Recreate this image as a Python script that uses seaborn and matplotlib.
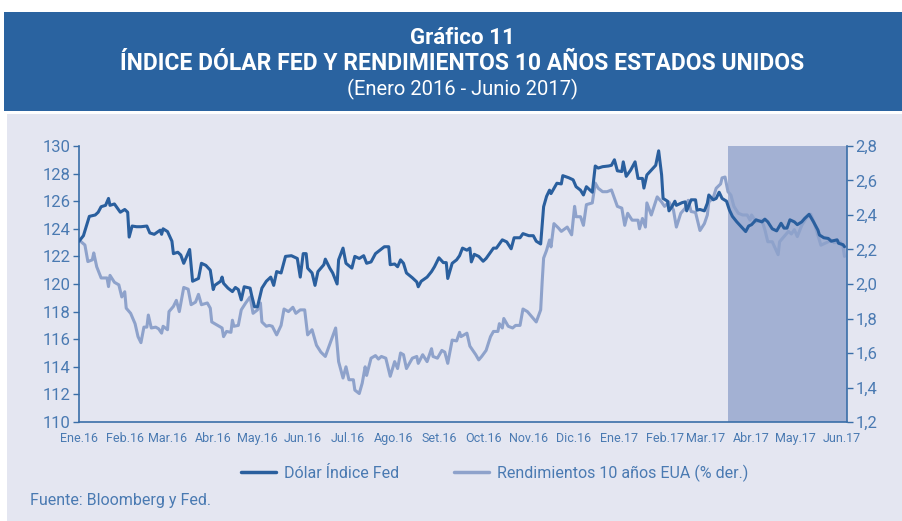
import pandas as pd
import matplotlib.pyplot as plt
import matplotlib.patches as mpatches
from matplotlib.lines import Line2D
import seaborn as sns

# Datos (dias desde 01-ene-2016)
dias_dolar = [0, 3, 7, 11, 13, 15, 18, 20, 21, 24, 28, 31, 33, 34, 36, 39, 42, 46, 48, 51,
              55, 56, 57, 60, 63, 64, 67, 69, 71, 75, 77, 81, 83, 86, 89, 91, 92, 96, 97, 98,
              101, 104, 106, 108, 110, 112, 116, 117, 119, 121, 124, 127, 130, 132, 134, 137, 140, 144, 148, 150,
              152, 154, 155, 158, 160, 162, 166, 167, 170, 172, 175, 176, 179, 181, 185, 187, 190, 193, 195, 198,
              201, 204, 207, 210, 211, 214, 216, 218, 220, 222, 226, 229, 230, 232, 236, 239, 241, 244, 247, 249,
              250, 253, 256, 258, 260, 263, 265, 266, 268, 271, 274, 276, 281, 283, 287, 290, 293, 295, 299, 301,
              305, 308, 310, 313, 315, 317, 319, 320, 324, 327, 328, 332, 335, 337, 340, 342, 344, 348, 350, 352,
              355, 359, 361, 363, 365, 368, 369, 371, 374, 377, 379, 382, 383, 385, 388, 391, 393, 395, 396, 399,
              400, 402, 404, 405, 409, 411, 412, 415, 418, 419, 421, 424, 426, 427, 430, 432, 434, 436, 439, 441,
              443, 446, 449, 452, 454, 456, 459, 463, 465, 467, 470, 473, 476, 478, 480, 482, 485, 487, 490, 492,
              495, 498, 501, 502, 505, 508, 510, 514, 515, 518, 519]
dolar = [123.1, 123.5, 124.9, 125.0, 125.2, 125.6, 125.7, 126.2, 125.7, 125.8, 125.2, 125.4, 125.2, 123.4, 124.2, 124.15, 124.15, 124.2, 123.7, 123.6,
         123.9, 123.6, 124.0, 123.8, 123.1, 122.2, 122.3, 122.1, 121.5, 122.5, 120.2, 120.4, 121.5, 121.35, 121.0, 119.6, 119.9, 120.2, 120.5, 120.05,
         119.7, 119.45, 119.75, 119.6, 118.85, 119.8, 119.7, 119.2, 118.35, 118.35, 119.7, 120.2, 120.5, 119.9, 120.9, 120.8, 122.0, 122.05, 121.85, 120.5,
         122.2, 122.2, 121.15, 120.8, 119.9, 120.9, 121.4, 121.8, 121.15, 120.8, 120.0, 121.75, 122.6, 121.5, 121.15, 122.0, 121.85, 122.05, 121.5, 121.6,
         122.2, 122.45, 122.7, 122.7, 121.4, 121.45, 121.25, 121.75, 121.5, 120.8, 120.45, 120.15, 119.8, 120.2, 120.5, 120.9, 121.25, 121.9, 121.55, 121.55,
         120.4, 121.5, 121.75, 122.05, 122.6, 122.45, 122.6, 121.6, 122.15, 122.0, 121.65, 121.85, 122.6, 122.6, 123.2, 123.05, 122.55, 123.35, 123.35, 123.65,
         123.5, 123.5, 123.1, 122.9, 125.6, 126.35, 126.8, 126.55, 127.3, 127.25, 127.85, 127.7, 127.55, 127.05, 126.8, 126.45, 127.05, 126.65, 128.55, 128.4,
         128.5, 128.55, 128.6, 129.0, 128.2, 128.15, 128.85, 127.8, 128.25, 128.85, 127.65, 127.65, 126.95, 127.9, 128.25, 128.6, 129.65, 127.9, 126.2, 126.0,
         125.3, 125.6, 126.0, 125.7, 125.9, 125.95, 125.3, 126.1, 126.1, 125.35, 125.4, 125.3, 125.85, 126.45, 126.1, 126.2, 126.65, 126.2, 126.0, 125.35,
         124.9, 124.5, 124.15, 123.8, 124.2, 124.3, 124.65, 124.5, 124.7, 124.5, 124.0, 123.85, 124.4, 124.05, 124.05, 124.65, 124.5, 124.3, 124.5, 124.75,
         125.05, 124.5, 123.9, 123.55, 123.35, 123.3, 123.1, 123.2, 122.95, 122.85, 122.7]

dias_rend = [0, 4, 6, 9, 10, 12, 15, 19, 20, 21, 24, 27, 29, 31, 32, 35, 38, 40, 42, 44,
             46, 47, 49, 52, 54, 56, 57, 60, 61, 64, 66, 68, 71, 74, 76, 79, 81, 83, 87, 89,
             90, 94, 97, 98, 100, 103, 104, 105, 108, 110, 113, 116, 118, 121, 123, 124, 127, 129, 131, 134,
             137, 139, 142, 145, 147, 150, 153, 155, 158, 161, 164, 167, 171, 174, 176, 179, 181, 183, 186, 187,
             190, 192, 194, 195, 198, 201, 203, 205, 208, 211, 214, 216, 218, 220, 222, 226, 229, 230, 233, 236,
             239, 240, 243, 246, 248, 250, 253, 256, 258, 259, 263, 265, 269, 271, 273, 276, 279, 281, 284, 285,
             287, 288, 291, 294, 296, 299, 301, 304, 307, 310, 313, 314, 315, 317, 319, 320, 322, 325, 327, 331,
             334, 336, 337, 340, 342, 344, 348, 350, 352, 355, 358, 361, 365, 368, 370, 372, 375, 379, 380, 382,
             384, 385, 388, 392, 395, 397, 400, 403, 405, 408, 411, 413, 415, 418, 421, 424, 426, 427, 430, 432,
             435, 436, 438, 440, 442, 444, 447, 450, 453, 455, 456, 459, 463, 465, 467, 470, 474, 475, 479, 481,
             483, 485, 487, 490, 493, 496, 498, 500, 503, 508, 510, 512, 516, 518, 519]
rend = [2.255, 2.226, 2.13, 2.14, 2.18, 2.10, 2.035, 2.035, 1.985, 2.05, 2.01, 1.995, 1.925, 1.955, 1.86, 1.83, 1.77, 1.695, 1.66, 1.75,
        1.75, 1.82, 1.745, 1.75, 1.74, 1.715, 1.755, 1.735, 1.84, 1.87, 1.905, 1.84, 1.98, 1.97, 1.88, 1.895, 1.94, 1.88, 1.89, 1.86,
        1.78, 1.76, 1.745, 1.695, 1.725, 1.72, 1.79, 1.755, 1.76, 1.85, 1.89, 1.925, 1.83, 1.85, 1.89, 1.78, 1.755, 1.76, 1.755, 1.705,
        1.76, 1.855, 1.84, 1.865, 1.83, 1.85, 1.85, 1.705, 1.735, 1.645, 1.605, 1.58, 1.675, 1.745, 1.55, 1.455, 1.52, 1.445, 1.445, 1.385,
        1.365, 1.425, 1.52, 1.47, 1.57, 1.585, 1.565, 1.58, 1.57, 1.465, 1.55, 1.51, 1.6, 1.59, 1.51, 1.57, 1.58, 1.54, 1.59, 1.55,
        1.625, 1.58, 1.57, 1.615, 1.605, 1.54, 1.675, 1.67, 1.72, 1.695, 1.715, 1.64, 1.59, 1.56, 1.58, 1.615, 1.695, 1.725, 1.725, 1.77,
        1.745, 1.80, 1.755, 1.745, 1.76, 1.76, 1.855, 1.84, 1.81, 1.78, 1.85, 2.01, 2.15, 2.195, 2.255, 2.215, 2.35, 2.325, 2.305, 2.33,
        2.285, 2.45, 2.39, 2.39, 2.34, 2.46, 2.47, 2.585, 2.555, 2.535, 2.535, 2.545, 2.45, 2.44, 2.34, 2.41, 2.37, 2.37, 2.32, 2.38,
        2.33, 2.47, 2.40, 2.505, 2.475, 2.45, 2.475, 2.43, 2.33, 2.41, 2.44, 2.485, 2.42, 2.415, 2.31, 2.35, 2.40, 2.475, 2.50, 2.555,
        2.58, 2.615, 2.62, 2.535, 2.515, 2.45, 2.41, 2.40, 2.40, 2.37, 2.40, 2.36, 2.37, 2.315, 2.245, 2.245, 2.17, 2.245, 2.285, 2.305,
        2.29, 2.315, 2.275, 2.34, 2.38, 2.405, 2.365, 2.31, 2.225, 2.245, 2.255, 2.24, 2.245, 2.215, 2.16]

meses = ['Ene.16', 'Feb.16', 'Mar.16', 'Abr.16', 'May.16', 'Jun.16', 'Jul.16', 'Ago.16', 'Set.16',
         'Oct.16', 'Nov.16', 'Dic.16', 'Ene.17', 'Feb.17', 'Mar.17', 'Abr.17', 'May.17', 'Jun.17']
y_izq = [110, 112, 114, 116, 118, 120, 122, 124, 126, 128, 130]
y_der = ['1,2', '1,4', '1,6', '1,8', '2,0', '2,2', '2,4', '2,6', '2,8']

inicio = pd.Timestamp('2016-01-01')
df_dolar = pd.DataFrame({'fecha': inicio + pd.to_timedelta(dias_dolar, unit='D'), 'valor': dolar})
df_rend = pd.DataFrame({'fecha': inicio + pd.to_timedelta(dias_rend, unit='D'), 'valor': rend})

sns.set_theme(style='white')
plt.rcParams['font.family'] = ['Roboto', 'DejaVu Sans']

azul = '#2A5F9E'
celeste = '#8EA2CB'
sombra = '#A3B1D3'
fondo = '#E4E6F1'
eje = '#3A6EA8'
texto = '#4A7AB2'

fig = plt.figure(figsize=(9.03, 5.21), dpi=100)
fig.patch.set_facecolor('white')

# banda del titulo y fondo del panel
fig.add_artist(mpatches.Rectangle((0.0044, 0.787), 0.9956, 0.19, transform=fig.transFigure,
                                  facecolor='#2A63A0', edgecolor='none', zorder=0))
fig.add_artist(mpatches.Rectangle((0.0078, 0.0), 0.9922, 0.781, transform=fig.transFigure,
                                  facecolor=fondo, edgecolor='none', zorder=0))

fig.text(0.512, 0.927, 'Gráfico 11', ha='center', va='center', color='white', fontsize=16, fontweight='bold')
fig.text(0.512, 0.878, 'ÍNDICE DÓLAR FED Y RENDIMIENTOS 10 AÑOS ESTADOS UNIDOS', ha='center', va='center',
         color='white', fontsize=16.5, fontweight='bold')
fig.text(0.512, 0.829, '(Enero 2016 - Junio 2017)', ha='center', va='center', color='white', fontsize=14.5)

ax = fig.add_axes([0.0875, 0.190, 0.8505, 0.5298])
ax2 = ax.twinx()

fin = inicio + pd.Timedelta(days=520.7)
# sombra en el eje derecho, que se dibuja primero
ax2.axvspan(pd.Timestamp('2017-03-16'), fin, color=sombra, lw=0, zorder=0)

sns.lineplot(data=df_dolar, x='fecha', y='valor', ax=ax, color=azul, lw=2.2, zorder=3)
sns.lineplot(data=df_rend, x='fecha', y='valor', ax=ax2, color=celeste, lw=2.2, zorder=2)

# la linea oscura por encima de la clara
ax.set_zorder(ax2.get_zorder() + 1)
ax.patch.set_visible(False)
ax2.patch.set_visible(False)

ax.set_xlim(inicio, fin)
ax.set_ylim(110, 130)
ax2.set_ylim(1.2, 2.8)
ax.set_yticks(y_izq)
ax.set_yticklabels([str(v) for v in y_izq])
ax2.set_yticks([1.2, 1.4, 1.6, 1.8, 2.0, 2.2, 2.4, 2.6, 2.8])
ax2.set_yticklabels(y_der)
ax.set_xticks(pd.date_range('2016-01-01', '2017-06-01', freq='MS'))
ax.set_xticklabels(meses)
ax.set_xlabel('')
ax.set_ylabel('')
ax2.set_ylabel('')

for a in (ax, ax2):
    for s in a.spines.values():
        s.set_color(eje)
        s.set_linewidth(1.2)
    a.spines['top'].set_visible(False)
ax.spines['right'].set_visible(False)
ax2.spines['left'].set_visible(False)
ax2.spines['bottom'].set_visible(False)

ax.tick_params(axis='y', direction='out', length=4, width=1, color=eje, labelcolor=texto, labelsize=12, pad=2)
ax.tick_params(axis='x', direction='out', length=4, width=1, color=eje, labelcolor=texto, labelsize=9, pad=3)
ax2.tick_params(axis='y', direction='out', length=4, width=1, color=eje, labelcolor=texto, labelsize=12, pad=2)

manejadores = [Line2D([], [], color=azul, lw=2.5), Line2D([], [], color=celeste, lw=2.5)]
fig.legend(manejadores, ['Dólar Índice Fed', 'Rendimientos 10 años EUA (% der.)'], loc='center',
           bbox_to_anchor=(0.548, 0.092), ncol=2, frameon=False, fontsize=11.5, handlelength=2.2,
           handletextpad=0.5, columnspacing=3.4, labelcolor=texto)

fig.text(0.033, 0.040, 'Fuente: Bloomberg y Fed.', ha='left', va='center', color=texto, fontsize=11.5)

plt.savefig('out.png', dpi=100)
